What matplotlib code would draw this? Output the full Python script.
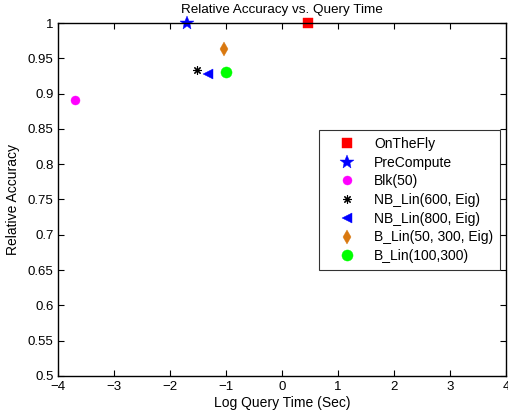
import matplotlib
matplotlib.use('Agg')
import matplotlib.pyplot as plt

plt.rcParams['font.family'] = ['Liberation Sans', 'DejaVu Sans']

# data
labels = ['OnTheFly', 'PreCompute', 'Blk(50)', 'NB_Lin(600, Eig)',
          'NB_Lin(800, Eig)', 'B_Lin(50, 300, Eig)', 'B_Lin(100,300)']
log_time = [0.46, -1.70, -3.70, -1.51, -1.32, -1.04, -1.00]
accuracy = [1.000, 1.000, 0.891, 0.933, 0.928, 0.963, 0.931]

# styles
markers = ['s', '*', 'o', (8, 2, 0), '<', 'd', 'o']
colors = ['#ff0000', '#0000ff', '#ff00ff', '#000000', '#0000ff', '#d9780f', '#00ff00']
sizes = [7, 10, 6.5, 6, 7.5, 7.5, 8]

xticks = [-4, -3, -2, -1, 0, 1, 2, 3, 4]
yticks = [0.5, 0.55, 0.6, 0.65, 0.7, 0.75, 0.8, 0.85, 0.9, 0.95, 1]
ytick_labels = ['0.5', '0.55', '0.6', '0.65', '0.7', '0.75', '0.8', '0.85', '0.9', '0.95', '1']

fig = plt.figure(figsize=(5.08, 4.19), dpi=100)
ax = fig.add_axes([0.114, 0.103, 0.882, 0.842])

for lab, x, y, m, c, s in zip(labels, log_time, accuracy, markers, colors, sizes):
    ax.plot([x], [y], linestyle='none', marker=m, color=c, markersize=s,
            markeredgewidth=0.8 if m == (8, 2, 0) else 0.3, label=lab, clip_on=False)

ax.set_xlim(-4, 4)
ax.set_ylim(0.5, 1)
ax.set_xticks(xticks)
ax.set_xticklabels(['\u2212' + str(-t) if t < 0 else str(t) for t in xticks])
ax.set_yticks(yticks)
ax.set_yticklabels(ytick_labels)
ax.tick_params(direction='in', top=True, right=True, length=4, width=0.8,
               labelsize=9.5)
ax.tick_params(axis='x', pad=4)
ax.tick_params(axis='y', pad=3)
for sp in ax.spines.values():
    sp.set_linewidth(1.0)

ax.set_xlabel('Log Query Time (Sec)', fontsize=10, labelpad=2)
ax.set_ylabel('Relative Accuracy', fontsize=10, labelpad=6)
ax.set_title('Relative Accuracy vs. Query Time', fontsize=9.7, pad=7)

leg = ax.legend(loc='upper left', bbox_to_anchor=(0.583, 0.697),
                fontsize=10, frameon=True, fancybox=False, edgecolor='black',
                borderpad=0.5, labelspacing=0.34, handletextpad=0.45,
                handlelength=3.0, numpoints=1, borderaxespad=0)
leg.get_frame().set_linewidth(0.8)

fig.savefig('out.png', dpi=100)
